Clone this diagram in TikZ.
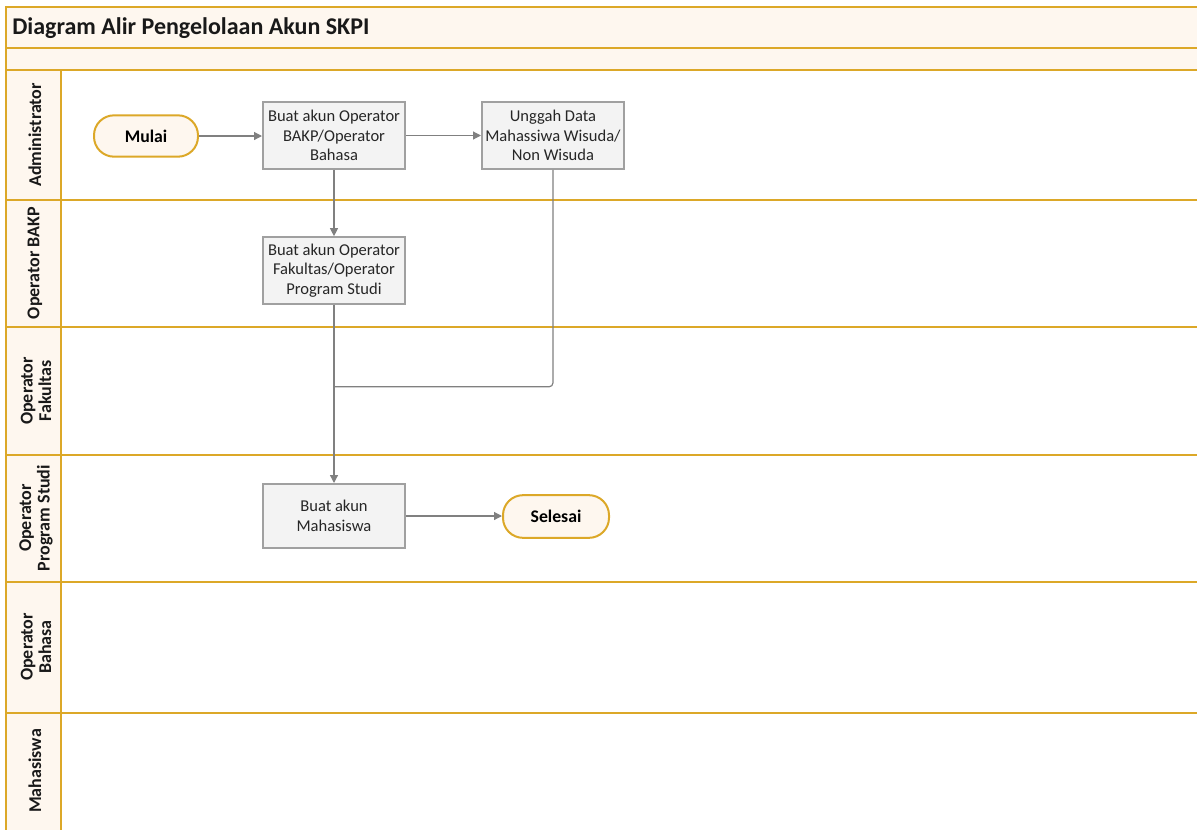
\documentclass[tikz,border=0pt]{standalone}
\usepackage{fontspec}
\setmainfont{Carlito}
\usetikzlibrary{calc, positioning, arrows.meta}

\definecolor{lanegold}{RGB}{220,168,40}
\definecolor{lanecream}{RGB}{254,247,239}
\definecolor{boxgray}{RGB}{160,160,160}
\definecolor{boxfill}{RGB}{243,243,243}
\definecolor{flowgray}{RGB}{128,128,128}

\begin{document}
\begin{tikzpicture}[x=0.75pt, y=-0.75pt]
    \tikzstyle{lane} = [draw=lanegold, line width=1.7pt]
    \tikzstyle{lanelabel} = [rotate=90, align=center, font=\bfseries\fontsize{13.5}{14}\selectfont, text=black!90]
    \tikzstyle{process} = [rectangle, draw=boxgray, line width=1.5pt, fill=boxfill, minimum width=106.5pt, minimum height=50pt, align=center, inner sep=2pt, font=\fontsize{12.4}{14.6}\selectfont, text=black!85]
    \tikzstyle{terminal} = [rectangle, rounded corners=15pt, draw=lanegold, line width=1.5pt, fill=lanecream, minimum width=78pt, minimum height=31pt, font=\bfseries\fontsize{13.3}{14}\selectfont]
    \tikzstyle{flow} = [draw=flowgray, line width=0.9pt, -{Triangle[length=6pt, width=6pt]}]
    \tikzstyle{line} = [draw=flowgray, line width=0.9pt, rounded corners=3pt]

    \useasboundingbox (0,0) rectangle (1197,829);
    \clip (0,0) rectangle (1197,829);

    % Pool ----------------------------------------------
    \fill[lanecream] (6,7) rectangle (1210,70);
    \fill[lanecream] (6,70) rectangle (61,840);
    \draw[lane] (6,840) -- (6,7) -- (1210,7);
    \draw[lane] (6,48) -- (1210,48);
    \draw[lane] (6,70) -- (1210,70);
    \draw[lane] (61,70) -- (61,840);
    \foreach \y in {200, 327, 455, 582, 713}
        \draw[lane] (6,\y) -- (1210,\y);

    \node (title) at (12,28) [anchor=west, inner sep=0pt, font=\bfseries\fontsize{18}{20}\selectfont, text=black!90] {Diagram Alir Pengelolaan Akun SKPI};

    % Lane labels
    \node (lane1) at (35,135) [lanelabel] {Administrator};
    \node (lane2) at (35,263) [lanelabel] {Operator BAKP};
    \node (lane3) at (36,391) [lanelabel] {Operator\\Fakultas};
    \node (lane4) at (36,518) [lanelabel] {Operator\\Program Studi};
    \node (lane5) at (36,647) [lanelabel] {Operator\\Bahasa};
    \node (lane6) at (35,771) [lanelabel] {Mahasiswa};
    % ---------------------------------------------------

    % Steps ---------------------------------------------
    \node (start) at (146,136) [terminal] {Mulai};
    \node (bakp) at (334,135.5) [process] {Buat akun Operator\\BAKP/Operator\\Bahasa};
    \node (upload) at (553,135.5) [process] {Unggah Data\\Mahassiwa Wisuda/\\Non Wisuda};
    \node (faculty) at (334,270.5) [process] {Buat akun Operator\\Fakultas/Operator\\Program Studi};
    \node (student) at (334,516) [process, minimum height=48pt] {Buat akun\\Mahasiswa};
    \node (finish) at (556,516.5) [terminal, minimum width=79.5pt, minimum height=32pt] {Selesai};

    \coordinate (merge) at ($(faculty.south) + (0,82)$);

    % Connectors
    \draw[flow] (start) -- (start -| bakp.west);
    \draw[flow] (bakp) -- (upload);
    \draw[flow] (bakp) -- (faculty);
    \draw[flow] (faculty) -- (student);
    \draw[line] (upload.south) |- (merge);
    \draw[flow] (student) -- (student -| finish.west);
\end{tikzpicture}
\end{document}
